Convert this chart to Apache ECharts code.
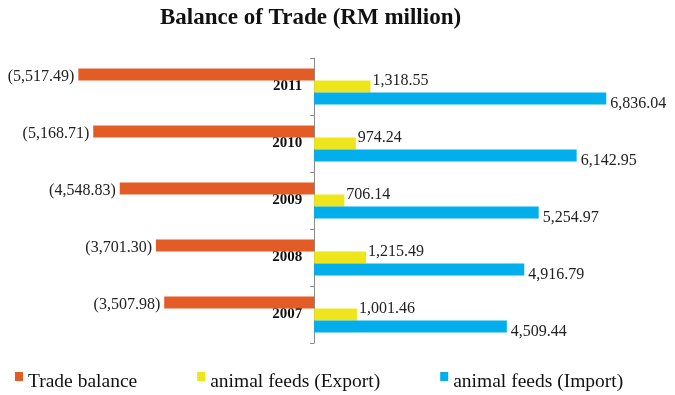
<!DOCTYPE html>
<html>
<head>
<meta charset="utf-8">
<title>Balance of Trade (RM million)</title>
<script src="https://cdn.jsdelivr.net/npm/echarts@6/dist/echarts.min.js"></script>
<style>
  html, body { margin: 0; padding: 0; background: #ffffff; }
  #chart { width: 675px; height: 395px; }
</style>
</head>
<body>
<div id="chart"></div>
<script>
// Years, bottom to top
const years = ['2007', '2008', '2009', '2010', '2011'];
// RM million
const tradeBalance = [-3507.98, -3701.30, -4548.83, -5168.71, -5517.49];
const feedExport = [1001.46, 1215.49, 706.14, 974.24, 1318.55];
const feedImport = [4509.44, 4916.79, 5254.97, 6142.95, 6836.04];

const SERIF = '"Liberation Serif", "Times New Roman", serif';

// Value range of the horizontal axis and plot box
const X_MIN = -7000;
const X_MAX = 8000;
const GRID_LEFT = 15;
const GRID_RIGHT = 19;
const CHART_W = 675;
const plotW = CHART_W - GRID_LEFT - GRID_RIGHT;
// distance from the left edge of the plot to the zero line
const zeroShift = plotW * (0 - X_MIN) / (X_MAX - X_MIN);

function fmt(v) {
  const s = Math.abs(v).toLocaleString('en-US', { minimumFractionDigits: 2, maximumFractionDigits: 2 });
  return v < 0 ? '(' + s + ')' : s;
}

const labelText = { fontFamily: SERIF, fontSize: 16, color: '#222222' };

// legend swatch: 8x9 square at the top of an 8x20 box
const swatch = 'path://M0,0H8V9H0Z M0,19.99H0.01V20H0Z';

const chart = echarts.init(document.getElementById('chart'), null, { renderer: 'canvas' });
chart.setOption({
  animation: false,
  backgroundColor: '#ffffff',
  title: {
    text: 'Balance of Trade (RM million)',
    left: 160,
    top: 7,
    padding: 0,
    textStyle: { fontFamily: SERIF, fontSize: 23, fontWeight: 'bold', color: '#111111' }
  },
  legend: {
    data: ['Trade balance', 'animal feeds (Export)', 'animal feeds (Import)'],
    left: 15,
    top: 372,
    padding: 0,
    itemGap: 60,
    itemWidth: 8,
    itemHeight: 20,
    symbolKeepAspect: false,
    icon: swatch,
    textStyle: { fontFamily: SERIF, fontSize: 19.5, color: '#111111' }
  },
  grid: {
    left: GRID_LEFT, right: GRID_RIGHT, top: 58, bottom: 52,
    containLabel: false,
    outerBoundsMode: 'none'
  },
  xAxis: {
    type: 'value',
    min: X_MIN,
    max: X_MAX,
    show: false,
    splitLine: { show: false }
  },
  yAxis: {
    type: 'category',
    data: years,
    position: 'left',
    offset: -zeroShift,
    axisLine: { onZero: false, lineStyle: { color: '#8a8a8a', width: 1 } },
    axisTick: { show: true, length: 4, lineStyle: { color: '#8a8a8a' } },
    axisLabel: {
      margin: 12,
      padding: [4, 0, 0, 0],
      fontFamily: SERIF,
      fontSize: 15,
      fontWeight: 'bold',
      color: '#111111'
    }
  },
  series: [
    {
      name: 'Trade balance',
      type: 'bar',
      data: tradeBalance,
      barWidth: 12,
      barGap: '0%',
      itemStyle: { color: '#E35B25' },
      label: {
        show: true,
        position: 'left',
        distance: 4,
        offset: [0, 2],
        formatter: p => fmt(p.value),
        ...labelText
      }
    },
    {
      name: 'animal feeds (Export)',
      type: 'bar',
      data: feedExport,
      barWidth: 12,
      barGap: '0%',
      itemStyle: { color: '#EEE51B' },
      label: {
        show: true,
        position: 'right',
        distance: 2,
        offset: [0, -6],
        formatter: p => fmt(p.value),
        ...labelText
      }
    },
    {
      name: 'animal feeds (Import)',
      type: 'bar',
      data: feedImport,
      barWidth: 12,
      barGap: '0%',
      itemStyle: { color: '#03AEEC' },
      label: {
        show: true,
        position: 'right',
        distance: 4,
        offset: [0, 5],
        formatter: p => fmt(p.value),
        ...labelText
      }
    }
  ]
});
</script>
</body>
</html>
